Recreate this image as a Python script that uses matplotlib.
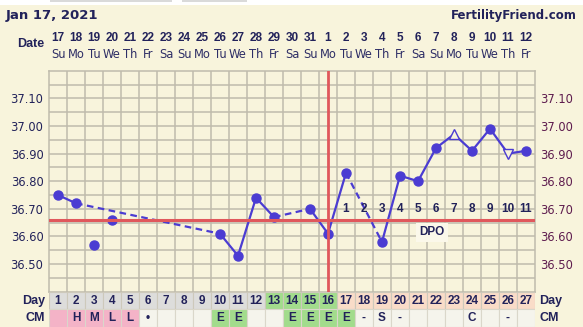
import matplotlib.pyplot as plt
from matplotlib.patches import Rectangle
from matplotlib.transforms import blended_transform_factory

# BBT chart - cycle starting Jan 17, 2021

days = list(range(1, 28))
dates = ['17', '18', '19', '20', '21', '22', '23', '24', '25', '26', '27', '28', '29', '30',
         '31', '1', '2', '3', '4', '5', '6', '7', '8', '9', '10', '11', '12']
weekdays = ['Su', 'Mo', 'Tu', 'We', 'Th', 'Fr', 'Sa'] * 4
temps = [36.75, 36.72, 36.57, 36.66, None, None, None, None, None, 36.61, 36.53, 36.74,
         36.67, None, 36.70, 36.61, 36.83, None, 36.58, 36.82, 36.80, 36.92, 36.97, 36.91,
         36.99, 36.90, 36.91]
discarded = [3, 4]
open_up = [23]
open_down = [26]
coverline = 36.66
ovulation_day = 16
fertile_days = [13, 14, 15, 16]
period_days = [1, 2, 3, 4, 5]
cm = ['', 'H', 'M', 'L', 'L', '\u2022', '', '', '', 'E', 'E', '', '', 'E', 'E', 'E', 'E',
      '-', 'S', '-', '', '', '', 'C', '', '-', '']

BG = '#F8F4DC'
GRID = '#BFBBAC'
BLUE = '#4B3CD2'
RED = '#E0585C'
NAVY = '#22225A'
NUMFONT = 'Liberation Sans'

fig = plt.figure(figsize=(5.83, 3.27), dpi=100, facecolor=BG)

# strip at the very top of the page
fig.patches.append(Rectangle((0, 1 - 5 / 327), 1, 5 / 327, transform=fig.transFigure,
                             fc='white', ec='none'))
for x0, x1 in [(50, 172), (182, 247)]:
    fig.patches.append(Rectangle((x0 / 583, 1 - 2 / 327), (x1 - x0) / 583, 2 / 327,
                                 transform=fig.transFigure, fc='#DADADA', ec='none'))

ax = fig.add_axes([49 / 583, 35.3 / 327, 486 / 583, 221 / 327])
ax.set_facecolor(BG)
ax.set_xlim(0.5, 27.5)
ax.set_ylim(36.40, 37.20)

ax.set_xticks([d + 0.5 for d in days[:-1]], minor=True)
ax.set_xticks([])
ax.set_yticks([36.5, 36.6, 36.7, 36.8, 36.9, 37.0, 37.1])
ax.set_yticks([36.45, 36.55, 36.65, 36.75, 36.85, 36.95, 37.05, 37.15], minor=True)
ax.set_yticklabels(['%.2f' % v for v in ax.get_yticks()])
ax.grid(True, which='both', color=GRID, lw=1.1, zorder=0)
ax.set_axisbelow(True)
ax.tick_params(which='both', length=0)
ax.tick_params(axis='y', labelleft=True, labelright=True, pad=4, labelsize=8.3,
               labelcolor=NAVY)
for lab in ax.get_yticklabels():
    lab.set_fontfamily('DejaVu Sans')
for tick in ax.yaxis.get_major_ticks():
    tick.label2.set_color('#5E1C4E')
for s in ax.spines.values():
    s.set_color(GRID)
    s.set_linewidth(1.1)

# temperature line: solid between consecutive days, dashed over gaps
valid = [(d, t) for d, t in zip(days, temps) if t is not None and d not in discarded]
for (d0, t0), (d1, t1) in zip(valid[:-1], valid[1:]):
    ls = '-' if d1 - d0 == 1 else (0, (3, 2))
    ax.plot([d0, d1], [t0, t1], color=BLUE, lw=1.6, ls=ls, zorder=3)

dot_days = [d for d, t in zip(days, temps) if t is not None and d not in open_up + open_down]
dot_temps = [temps[d - 1] for d in dot_days]
ax.plot(dot_days, dot_temps, 'o', color=BLUE, ms=6.5, zorder=4)
ax.plot(open_up, [temps[d - 1] for d in open_up], '^', mfc=BG, mec=BLUE, mew=1, ms=7,
        zorder=4)
ax.plot(open_down, [temps[d - 1] for d in open_down], 'v', mfc=BG, mec=BLUE, mew=1, ms=7,
        zorder=4)

ax.axhline(coverline, color=RED, lw=2.2, zorder=5)
ax.axvline(ovulation_day, color=RED, lw=2.0, zorder=5)

# days past ovulation
for d in days:
    if d > ovulation_day:
        ax.text(d, 36.70, str(d - ovulation_day), ha='center', va='center', fontsize=8.5,
                fontweight='bold', family=NUMFONT, color=NAVY, zorder=6)
ax.text(21.76, 36.615, 'DPO', ha='center', va='center', fontsize=8.5, fontweight='bold',
        family=NUMFONT, color=NAVY, zorder=6,
        bbox=dict(boxstyle='square,pad=0.3', fc='#FBF8EA', ec='none'))

# header: dates and weekdays
tr = blended_transform_factory(ax.transData, fig.transFigure)
for d, ds, wd in zip(days, dates, weekdays):
    fig.text(d, 1 - 38 / 327, ds, transform=tr, ha='center', va='center', fontsize=8.5,
             fontweight='bold', family=NUMFONT, color=NAVY)
    fig.text(d, 1 - 55 / 327, wd, transform=tr, ha='center', va='center', fontsize=8.3,
             family='DejaVu Sans', color='#2E2E66')
fig.text(44 / 583, 1 - 44 / 327, 'Date', ha='right', va='center', fontsize=9,
         fontweight='bold', family=NUMFONT, color=NAVY)
fig.text(6 / 583, 1 - 16 / 327, 'Jan 17, 2021', ha='left', va='center', fontsize=9.5,
         fontweight='bold', family='DejaVu Sans', color=NAVY)
fig.text(577 / 583, 1 - 16 / 327, 'FertilityFriend.com', ha='right', va='center',
         fontsize=8.5, fontweight='bold', family='DejaVu Sans', color=NAVY)

# Day / CM rows
ax2 = fig.add_axes([49 / 583, 0, 486 / 583, 35.3 / 327])
ax2.set_xlim(0.5, 27.5)
ax2.set_ylim(0, 2)
ax2.axis('off')
for d, c in zip(days, cm):
    if d in fertile_days:
        day_fc = '#A2DC8C'
    elif d > ovulation_day:
        day_fc = '#F9DCC8'
    else:
        day_fc = '#DDDDDB'
    if d in period_days:
        cm_fc = '#F4B3C7'
    elif c == 'E':
        cm_fc = '#A2DC8C'
    else:
        cm_fc = '#F5F4EC'
    ax2.add_patch(Rectangle((d - 0.5, 1), 1, 1, fc=day_fc, ec='#CDC9BB', lw=0.8))
    ax2.add_patch(Rectangle((d - 0.5, 0), 1, 1, fc=cm_fc, ec='#DAD7CA', lw=0.8))
    ax2.text(d, 1.5, str(d), ha='center', va='center', fontsize=8.5, fontweight='bold',
             family=NUMFONT, color=NAVY)
    ax2.text(d, 0.5, c, ha='center', va='center', fontsize=8.5, fontweight='bold',
             family=NUMFONT, color=NAVY)

tr2 = blended_transform_factory(ax2.transAxes, ax2.transData)
for label, y in [('Day', 1.5), ('CM', 0.5)]:
    ax2.text(-4 / 486, y, label, transform=tr2, ha='right', va='center', fontsize=9,
             fontweight='bold', family=NUMFONT, color=NAVY)
    ax2.text(1 + 4 / 486, y, label, transform=tr2, ha='left', va='center', fontsize=9,
             fontweight='bold', family=NUMFONT, color=NAVY)

fig.savefig('out.png', dpi=100, facecolor=BG)
